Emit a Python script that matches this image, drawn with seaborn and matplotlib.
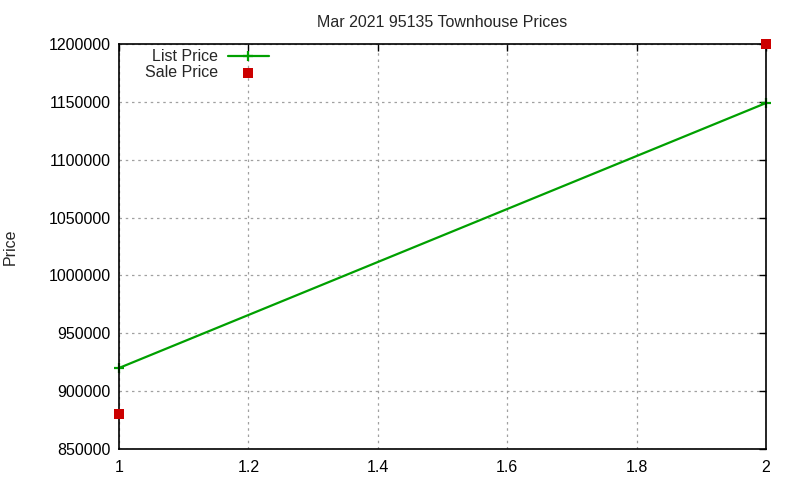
import numpy as np
import pandas as pd
import seaborn as sns
import matplotlib.pyplot as plt

# values
x_vals = [1, 2]
list_price = [920000, 1149000]
sale_price = [880000, 1200000]

x_ticks = [1, 1.2, 1.4, 1.6, 1.8, 2]
y_ticks = list(range(850000, 1200001, 50000))

sns.set_style("white")
plt.rcParams['font.family'] = ['Liberation Sans', 'DejaVu Sans']

df = pd.DataFrame({"x": x_vals, "List Price": list_price, "Sale Price": sale_price})

fig = plt.figure(figsize=(8, 4.8), dpi=100)
ax = fig.add_axes([0.14875, 0.0646, 0.80875, 0.8437])

sns.lineplot(data=df, x="x", y="List Price", ax=ax, color="#00a000", lw=1.6,
             marker="+", markersize=7, markeredgewidth=1.6, markeredgecolor="#00a000",
             label="List Price", clip_on=False)
sns.scatterplot(data=df, x="x", y="Sale Price", ax=ax, color="#cc0000", marker="s",
                s=50, linewidth=0, label="Sale Price", zorder=5, clip_on=False)

ax.set_xlim(1, 2)
ax.set_ylim(850000, 1200000)
ax.set_xticks(x_ticks)
ax.set_xticklabels(["1", "1.2", "1.4", "1.6", "1.8", "2"])
ax.set_yticks(y_ticks)
ax.set_yticklabels([str(v) for v in y_ticks])
ax.grid(True, color="#a0a0a0", linestyle=(0, (2, 3)), linewidth=0.9)
ax.tick_params(direction="in", length=5, width=1, top=True, right=True,
               labelsize=11.5, pad=6, colors="black")
ax.tick_params(axis="x", pad=8)
for sp in ax.spines.values():
    sp.set_color("black")
    sp.set_linewidth(1.2)

ax.set_xlabel("")
ax.set_ylabel("Price", fontsize=11.5, labelpad=22)
ax.set_title("Mar 2021 95135 Townhouse Prices", fontsize=11.5, pad=12)

ax.legend(loc="upper left", bbox_to_anchor=(0.03, 1.003), markerfirst=False,
          frameon=False, fontsize=11.5, handlelength=2.6, handletextpad=0.6,
          labelspacing=0.05, borderaxespad=0)

fig.savefig("out.png", dpi=100)
